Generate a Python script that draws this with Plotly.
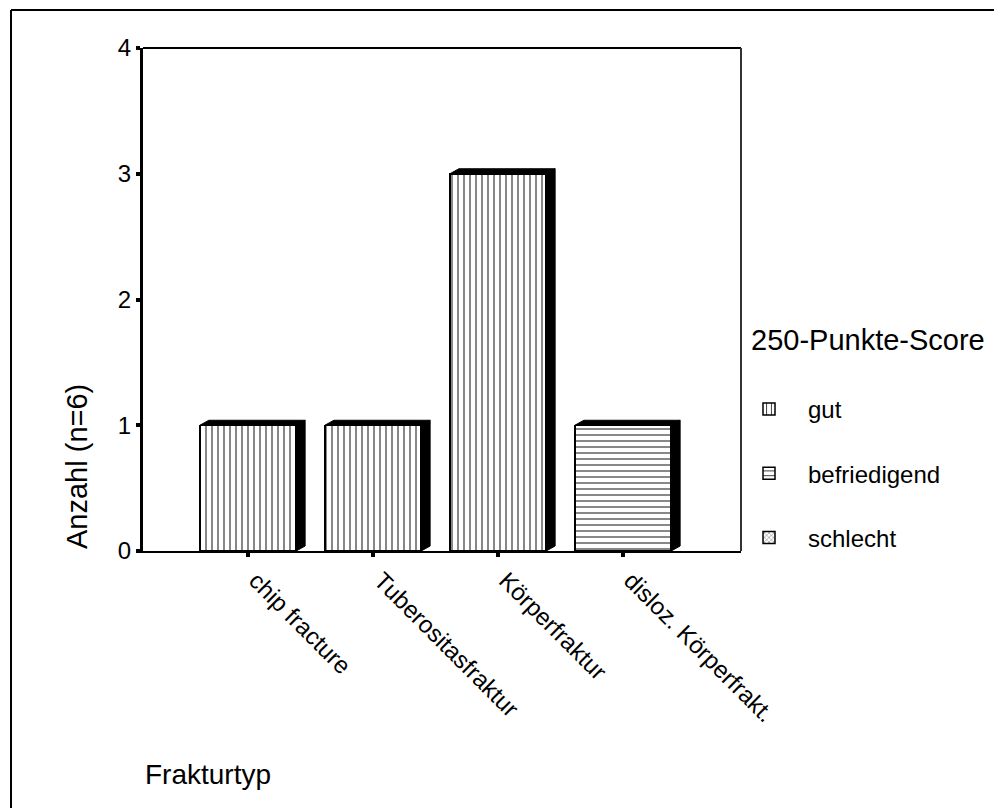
import plotly.graph_objects as go

# data
categories = ["chip fracture", "Tuberositasfraktur", "Körperfraktur", "disloz. Körperfrakt."]
gut = [1, 1, 3, 0]
befriedigend = [0, 0, 0, 1]
schlecht = [0, 0, 0, 0]
y_ticks = [0, 1, 2, 3, 4]

# page has an 8px body margin, so size the figure to fit the window
OFF = 8
W, H = 1002 - OFF, 808 - OFF
L, T = 143 - OFF, 48 - OFF
R = W - (741 - OFF)
B = H - (551 - OFF)
pw, ph = W - L - R, H - T - B

x_idx = list(range(len(categories)))
xr = [-0.84, 3.944]
yr = [0, 4]
bar_w = 0.77

FONT = "Liberation Sans, Arial, sans-serif"

def px2paper_x(px):
    return (px - 143) / pw

def px2paper_y(py):
    return (551 - py) / ph

fig = go.Figure()

series = [
    ("gut", gut, "|"),
    ("befriedigend", befriedigend, "-"),
    ("schlecht", schlecht, "x"),
]
for name, vals, shape in series:
    fig.add_trace(go.Bar(
        x=x_idx, y=vals, name=name, width=bar_w,
        marker=dict(
            color="white",
            line=dict(color="black", width=1.5),
            pattern=dict(shape=shape, size=6 if shape != "x" else 4, solidity=0.18,
                         fgcolor="#222", bgcolor="white", fillmode="replace"),
        ),
        legendgroup=name,
    ))

# 3D look: black top and side panels
ux = (xr[1] - xr[0]) / pw
uy = (yr[1] - yr[0]) / ph
dx, dy = 9 * ux, 5 * uy
totals = [a + b + c for a, b, c in zip(gut, befriedigend, schlecht)]
for xi, tot in zip(x_idx, totals):
    if tot <= 0:
        continue
    x0, x1 = xi - bar_w / 2, xi + bar_w / 2
    top = f"M {x0},{tot} L {x1},{tot} L {x1+dx},{tot+dy} L {x0+dx},{tot+dy} Z"
    side = f"M {x1},0 L {x1},{tot} L {x1+dx},{tot+dy} L {x1+dx},{dy} Z"
    for p in (top, side):
        fig.add_shape(type="path", path=p, xref="x", yref="y",
                      fillcolor="black", line=dict(color="black", width=1))

# plot frame (top and right)
fig.add_shape(type="line", xref="paper", yref="paper", x0=0, x1=1, y0=1, y1=1,
              line=dict(color="black", width=2))
fig.add_shape(type="line", xref="paper", yref="paper", x0=1, x1=1, y0=0, y1=1,
              line=dict(color="#333", width=2))

# outer border (left and top edges)
bx, by = px2paper_x(11), px2paper_y(10)
fig.add_shape(type="line", xref="paper", yref="paper", x0=bx, x1=bx, y0=by, y1=px2paper_y(830),
              line=dict(color="black", width=2))
fig.add_shape(type="line", xref="paper", yref="paper", x0=bx, x1=px2paper_x(1020), y0=by, y1=by,
              line=dict(color="black", width=2))

fig.add_annotation(text="Anzahl (n=6)", textangle=-90, xref="paper", yref="paper",
                   x=px2paper_x(77), y=px2paper_y(467), xanchor="center", yanchor="middle",
                   showarrow=False, font=dict(size=29, color="black", family=FONT))
fig.add_annotation(text="Frakturtyp", xref="paper", yref="paper", xanchor="left", yanchor="middle",
                   x=px2paper_x(143), y=px2paper_y(774), showarrow=False,
                   font=dict(size=28, color="black", family=FONT))
fig.add_annotation(text="250-Punkte-Score", xref="paper", yref="paper", xanchor="left",
                   yanchor="middle", x=px2paper_x(749), y=px2paper_y(340), showarrow=False,
                   font=dict(size=29, color="black", family=FONT))

fig.update_layout(
    width=W, height=H,
    margin=dict(l=L, r=R, t=T, b=B),
    paper_bgcolor="white", plot_bgcolor="white",
    barmode="stack",
    font=dict(family=FONT, color="black"),
    legend=dict(
        x=px2paper_x(730), y=px2paper_y(387), xanchor="left", yanchor="top",
        traceorder="grouped", tracegroupgap=30, itemwidth=68,
        font=dict(size=24, color="black", family=FONT),
        bgcolor="rgba(0,0,0,0)",
    ),
    xaxis=dict(
        range=xr, tickvals=x_idx, ticktext=categories, tickangle=45,
        showgrid=False, zeroline=False, showline=True, linecolor="black", linewidth=2,
        ticks="outside", ticklen=4, tickwidth=4, tickcolor="black",
        tickfont=dict(size=24, family=FONT, color="black"), ticklabelshift=8,
    ),
    yaxis=dict(
        range=yr, tickvals=y_ticks, showgrid=False, zeroline=False,
        showline=True, linecolor="black", linewidth=3,
        ticks="outside", ticklen=4, tickwidth=4, tickcolor="black",
        tickfont=dict(size=24, family=FONT, color="black"),
    ),
)

fig.write_html("out.html")
